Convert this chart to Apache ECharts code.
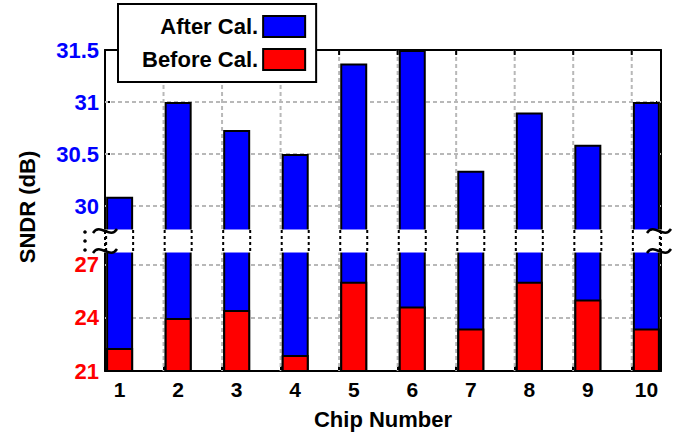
<!DOCTYPE html>
<html><head><meta charset="utf-8">
<script src="https://cdn.jsdelivr.net/npm/echarts@6/dist/echarts.min.js"></script>
<style>html,body{margin:0;padding:0;background:#fff}#c{width:692px;height:436px}</style>
</head><body><div id="c"></div>
<script>
// ---- data ----
const chips = [1, 2, 3, 4, 5, 6, 7, 8, 9, 10];
const afterCal = [30.09, 31.0, 30.73, 30.5, 31.37, 31.5, 30.34, 30.9, 30.59, 31.0];
const beforeCal = [22.3, 24.0, 24.45, 21.9, 26.05, 24.65, 23.4, 26.05, 25.05, 23.4];
const upperTicks = [30, 30.5, 31, 31.5];
const lowerTicks = [21, 24, 27];
const upperGrid = [30, 30.5, 31];
const lowerGrid = [24, 27];
const xGridTicks = [1.75, 2.75, 3.75, 4.75, 5.75, 6.75, 7.75, 8.75, 9.75];

// ---- style / layout ----
const FONT = '"Liberation Sans", Arial, Helvetica, sans-serif';
const BLUE = '#0000ff', RED = '#ff0000';
const X_MIN = 0.75, X_MAX = 10.25;
const UP_MIN = 29.76, UP_MAX = 31.5, LO_MIN = 21, LO_MAX = 27.79;
const UP_H = 181, LO_H = 120;
const BAR_PX = 27;
const GRID_COLOR = '#b8b8b8';
const GRID_STYLE = { color: GRID_COLOR, width: 2, type: [4, 3] };
const AXIS_LINE = { show: true, lineStyle: { color: '#000', width: 2 } };
const TICK = { show: true, inside: true, length: 5, lineStyle: { color: '#000', width: 2 } };

const chart = echarts.init(document.getElementById('c'), null, { renderer: 'svg' });

const pairs = (vals) => chips.map((c, i) => [c, vals[i]]);

function makeVGrid(yMin, yMax, topTick) {
  return function (params, api) {
    const x = api.value(0);
    const a = api.coord([x, yMax]);
    const b = api.coord([x, yMin]);
    const kids = [{
      type: 'line', shape: { x1: a[0], y1: a[1], x2: b[0], y2: b[1] },
      style: { stroke: GRID_COLOR, lineWidth: 2, lineDash: [4, 3] }
    }];
    if (topTick) {
      kids.push({ type: 'line', shape: { x1: a[0], y1: a[1], x2: a[0], y2: a[1] + 5 },
        style: { stroke: '#000', lineWidth: 2 } });
    }
    return { type: 'group', children: kids };
  };
}

function renderGapBar(params, api) {
  const c = api.value(0);
  const top = api.coord([c, 1]);
  const bot = api.coord([c, 0]);
  const half = BAR_PX / 2;
  return {
    type: 'group',
    children: [-half, half].map(dx => ({
      type: 'line',
      shape: { x1: top[0] + dx, y1: top[1] - 1, x2: top[0] + dx, y2: bot[1] + 1 },
      style: { stroke: '#000', lineWidth: 2, lineDash: [3, 3] }
    }))
  };
}

function wave(cx, cy) {
  return {
    type: 'bezierCurve',
    shape: { x1: cx - 12, y1: cy + 2, cpx1: cx - 5, cpy1: cy - 9, cpx2: cx + 5, cpy2: cy + 9, x2: cx + 12, y2: cy - 2 },
    style: { stroke: '#000', lineWidth: 2.5, fill: null }
  };
}

function renderGapDecor(params, api) {
  const l = api.coord([api.value(0), 1]);
  const r = api.coord([api.value(1), 0]);
  const x0 = l[0], x1 = r[0], yT = l[1], yB = r[1];
  const kids = [
    { type: 'rect', shape: { x: x0 - 4, y: yT - 1.5, width: x1 - x0 + 8, height: yB - yT + 3 },
      style: { fill: '#fff', stroke: null } },
    { type: 'line', shape: { x1: x0, y1: yT, x2: x0, y2: yB }, style: { stroke: '#000', lineWidth: 2, lineDash: [3, 3] } },
    { type: 'line', shape: { x1: x1, y1: yT, x2: x1, y2: yB }, style: { stroke: '#000', lineWidth: 2, lineDash: [3, 3] } },
    wave(x0, yT), wave(x0, yB), wave(x1 - 2, yT), wave(x1 - 2, yB)
  ];
  [0, 0.5, 1].forEach(f => {
    kids.push({ type: 'circle', shape: { cx: x0 - 20, cy: yT + 1 + f * (yB - yT - 2), r: 1.8 }, style: { fill: '#000' } });
  });
  return { type: 'group', children: kids };
}

const option = {
  animation: false,
  backgroundColor: '#fff',
  textStyle: { fontFamily: FONT },
  legend: {
    data: ['After Cal.', 'Before Cal.'],
    orient: 'vertical',
    left: 118, top: 4,
    align: 'right',
    icon: 'rect',
    itemWidth: 42, itemHeight: 21, itemGap: 10,
    padding: [11, 10, 11, 24],
    backgroundColor: '#fff',
    borderColor: '#000', borderWidth: 2,
    itemStyle: { borderColor: '#000', borderWidth: 2 },
    textStyle: { fontSize: 22, fontWeight: 'bold', color: '#000', fontFamily: FONT }
  },
  graphic: [{
    type: 'text', x: 27, y: 207, rotation: Math.PI / 2,
    style: { text: 'SNDR (dB)', font: 'bold 22px ' + FONT, fill: '#000', align: 'center', verticalAlign: 'middle' }
  }],
  grid: [
    { left: 105, right: 31, top: 50, height: UP_H },
    { left: 105, right: 31, top: 231, height: 20 },
    { left: 105, right: 31, top: 251, height: LO_H }
  ],
  xAxis: [
    { type: 'value', gridIndex: 0, min: X_MIN, max: X_MAX, position: 'bottom',
      axisLine: { show: false }, axisTick: { show: false },
      axisLabel: { show: false }, splitLine: { show: false } },
    { type: 'value', gridIndex: 0, min: X_MIN, max: X_MAX, position: 'top',
      axisLine: AXIS_LINE, axisTick: { show: false },
      axisLabel: { show: false }, splitLine: { show: false } },
    { type: 'value', gridIndex: 1, min: X_MIN, max: X_MAX, show: false },
    { type: 'value', gridIndex: 2, min: X_MIN, max: X_MAX, position: 'bottom',
      axisLine: AXIS_LINE, axisTick: Object.assign({}, TICK, { customValues: xGridTicks }),
      axisLabel: { customValues: chips, fontSize: 21, fontWeight: 'bold', color: '#000', margin: 8, fontFamily: FONT },
      splitLine: { show: false },
      name: 'Chip Number', nameLocation: 'middle', nameGap: 37,
      nameTextStyle: { fontSize: 22, fontWeight: 'bold', color: '#000', fontFamily: FONT } }
  ],
  yAxis: [
    { type: 'value', gridIndex: 0, min: UP_MIN, max: UP_MAX, position: 'left',
      axisLine: AXIS_LINE, axisTick: Object.assign({}, TICK, { customValues: upperTicks }),
      axisLabel: { customValues: upperTicks, fontSize: 22, fontWeight: 'bold', color: BLUE, margin: 6, fontFamily: FONT },
      splitLine: { show: false } },
    { type: 'value', gridIndex: 0, min: UP_MIN, max: UP_MAX, position: 'right',
      axisLine: AXIS_LINE, axisTick: Object.assign({}, TICK, { customValues: upperTicks }),
      axisLabel: { show: false }, splitLine: { show: false } },
    { type: 'value', gridIndex: 1, min: 0, max: 1, show: false },
    { type: 'value', gridIndex: 2, min: LO_MIN, max: LO_MAX, position: 'left',
      axisLine: AXIS_LINE, axisTick: Object.assign({}, TICK, { customValues: lowerTicks }),
      axisLabel: { customValues: lowerTicks, fontSize: 22, fontWeight: 'bold', color: RED, margin: 6, fontFamily: FONT },
      splitLine: { show: false } },
    { type: 'value', gridIndex: 2, min: LO_MIN, max: LO_MAX, position: 'right',
      axisLine: AXIS_LINE, axisTick: Object.assign({}, TICK, { customValues: lowerTicks }),
      axisLabel: { show: false }, splitLine: { show: false } },
    // horizontal dashed grid lines drawn as full-width ticks
    { type: 'value', gridIndex: 0, min: UP_MIN, max: UP_MAX, position: 'right', offset: 0,
      axisLine: { show: false },
      axisTick: { show: true, inside: true, length: 556, customValues: upperGrid, lineStyle: GRID_STYLE },
      axisLabel: { show: false }, splitLine: { show: false } },
    { type: 'value', gridIndex: 2, min: LO_MIN, max: LO_MAX, position: 'right', offset: 0,
      axisLine: { show: false },
      axisTick: { show: true, inside: true, length: 556, customValues: lowerGrid, lineStyle: GRID_STYLE },
      axisLabel: { show: false }, splitLine: { show: false } }
  ],
  series: [
    { name: 'vgridUp', type: 'custom', xAxisIndex: 0, yAxisIndex: 0, data: xGridTicks.map(x => [x]),
      renderItem: makeVGrid(UP_MIN, UP_MAX, true), clip: false, z: 1, silent: true },
    { name: 'vgridLo', type: 'custom', xAxisIndex: 3, yAxisIndex: 3, data: xGridTicks.map(x => [x]),
      renderItem: makeVGrid(LO_MIN, LO_MAX, false), clip: false, z: 1, silent: true },
    { name: 'After Cal.', type: 'bar', xAxisIndex: 0, yAxisIndex: 0, data: pairs(afterCal),
      barWidth: BAR_PX, itemStyle: { color: BLUE, borderColor: '#000', borderWidth: 2 }, z: 2 },
    { name: 'After Cal.', type: 'bar', xAxisIndex: 3, yAxisIndex: 3, data: pairs(afterCal),
      barWidth: BAR_PX, barGap: '-100%', itemStyle: { color: BLUE, borderColor: '#000', borderWidth: 2 }, z: 2 },
    { name: 'Before Cal.', type: 'bar', xAxisIndex: 3, yAxisIndex: 3, data: pairs(beforeCal),
      barWidth: BAR_PX, barGap: '-100%', itemStyle: { color: RED, borderColor: '#000', borderWidth: 2 }, z: 3 },
    { name: 'gapDecor', type: 'custom', xAxisIndex: 2, yAxisIndex: 2, data: [[X_MIN, X_MAX]],
      renderItem: renderGapDecor, clip: false, z: 6, silent: true },
    { name: 'gapBars', type: 'custom', xAxisIndex: 2, yAxisIndex: 2, data: chips.map(c => [c]),
      renderItem: renderGapBar, clip: false, z: 7, silent: true }
  ]
};
chart.setOption(option);
</script>
</body></html>
